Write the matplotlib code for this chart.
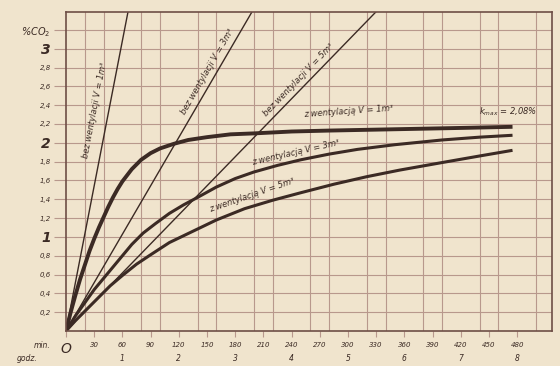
import numpy as np
import matplotlib.pyplot as plt
from matplotlib import transforms

# (minutes, % CO2)
bez_v1_t = [0, 70]
bez_v1_y = [0, 3.6]
bez_v3_t = [0, 210]
bez_v3_y = [0, 3.6]
bez_v5_t = [0, 350]
bez_v5_y = [0, 3.6]

z_v1_t = [0, 5, 10, 15, 20, 25, 30, 35, 40, 45, 50, 55, 60, 70, 80, 90, 100, 115, 130, 150,
          175, 200, 240, 280, 330, 380, 430, 475]
z_v1_y = [0, 0.20, 0.38, 0.55, 0.70, 0.85, 0.98, 1.10, 1.21, 1.32, 1.42, 1.51, 1.59, 1.72, 1.82,
          1.89, 1.94, 1.99, 2.03, 2.06, 2.09, 2.10, 2.12, 2.13, 2.14, 2.15, 2.16, 2.17]
z_v3_t = [0, 10, 20, 30, 40, 50, 60, 70, 82, 95, 110, 125, 140, 160, 180, 200, 225, 250, 280,
          310, 350, 400, 440, 475]
z_v3_y = [0, 0.16, 0.30, 0.44, 0.56, 0.68, 0.80, 0.92, 1.04, 1.14, 1.25, 1.34, 1.42, 1.53, 1.62,
          1.69, 1.76, 1.82, 1.88, 1.93, 1.98, 2.03, 2.06, 2.08]
z_v5_t = [0, 10, 20, 35, 47, 60, 75, 90, 110, 135, 160, 190, 220, 250, 285, 320, 355, 400, 440, 475]
z_v5_y = [0, 0.11, 0.21, 0.36, 0.48, 0.59, 0.71, 0.81, 0.94, 1.06, 1.18, 1.30, 1.39, 1.47, 1.56,
          1.64, 1.71, 1.79, 1.86, 1.92]

y_ticks = [0.2, 0.4, 0.6, 0.8, 1.0, 1.2, 1.4, 1.6, 1.8, 2.0, 2.2, 2.4, 2.6, 2.8, 3.0, 3.2]
y_labels = ['0,2', '0,4', '0,6', '0,8', '1', '1,2', '1,4', '1,6', '1,8', '2', '2,2', '2,4', '2,6', '2,8', '3', '%CO$_2$']
min_ticks = list(range(0, 481, 30))
min_labels = ['O'] + [str(m) for m in min_ticks[1:]]
godz = [1, 2, 3, 4, 5, 6, 7, 8]

bg = '#f0e4cd'
ink = '#3b2a24'
gridc = '#b8988c'

fig = plt.figure(figsize=(5.6, 3.66), dpi=100, facecolor=bg)
ax = fig.add_axes([66 / 560, 35 / 366, 486 / 560, 319 / 366])
ax.set_facecolor(bg)
ax.set_xlim(0, 517)
ax.set_ylim(0, 3.39)

# graph paper
ax.set_xticks(np.arange(20, 517, 20), minor=True)
ax.grid(which='minor', axis='x', color=gridc, lw=0.8)
ax.grid(which='major', axis='y', color=gridc, lw=0.8)
ax.tick_params(axis='x', which='minor', length=0)

# bez wentylacji
for t, y in [(bez_v1_t, bez_v1_y), (bez_v3_t, bez_v3_y), (bez_v5_t, bez_v5_y)]:
    ax.plot(t, y, color=ink, lw=1.0)

# z wentylacja
ax.plot(z_v1_t, z_v1_y, color=ink, lw=2.8, solid_capstyle='butt', solid_joinstyle='round')
ax.plot(z_v3_t, z_v3_y, color=ink, lw=2.2, solid_capstyle='butt', solid_joinstyle='round')
ax.plot(z_v5_t, z_v5_y, color=ink, lw=2.2, solid_capstyle='butt', solid_joinstyle='round')

lab = dict(color=ink, fontsize=6, style='italic', ha='center', va='center', rotation_mode='anchor')
ax.text(31, 2.35, 'bez wentylacji V = 1m³', rotation=79, **lab)
ax.text(150, 2.76, 'bez wentylacji V = 3m³', rotation=60, **lab)
ax.text(247, 2.67, 'bez wentylacji V = 5m³', rotation=46, **lab)
ax.text(300, 2.33, 'z wentylacją V = 1m³', rotation=4, **lab)
ax.text(244, 1.90, 'z wentylacją V = 3m³', rotation=13, **lab)
ax.text(198, 1.44, 'z wentylacją V = 5m³', rotation=19, **lab)
ax.text(470, 2.33, 'k$_{max}$ = 2,08%', rotation=0, **lab)

ax.set_yticks(y_ticks)
ax.set_yticklabels(y_labels)
for tl, s in zip(ax.get_yticklabels(), y_labels):
    tl.set_style('italic')
    tl.set_color(ink)
    if s in ('1', '2', '3'):
        tl.set_fontsize(10)
        tl.set_fontweight('bold')
    elif s.startswith('%'):
        tl.set_fontsize(7)
    else:
        tl.set_fontsize(5)
ax.tick_params(axis='y', length=9, color=gridc, pad=2)

ax.set_xticks(min_ticks)
ax.set_xticklabels(min_labels)
for tl, s in zip(ax.get_xticklabels(), min_labels):
    tl.set_style('italic')
    tl.set_color(ink)
    tl.set_fontsize(10 if s == 'O' else 5)
ax.tick_params(axis='x', length=4, color=gridc, pad=4)

trans = transforms.blended_transform_factory(ax.transData, ax.transAxes)
for h in godz:
    ax.text(h * 60, -0.085, str(h), transform=trans, ha='center', va='center',
            fontsize=5.5, style='italic', color=ink)
ax.text(-16, -0.045, 'min.', transform=trans, ha='right', va='center', fontsize=5.5, style='italic', color=ink)
ax.text(-30, -0.085, 'godz.', transform=trans, ha='right', va='center', fontsize=5.5, style='italic', color=ink)

for sp in ax.spines.values():
    sp.set_color('#6e4e46')
    sp.set_linewidth(1.2)

fig.savefig('out.png', dpi=100, facecolor=bg)
